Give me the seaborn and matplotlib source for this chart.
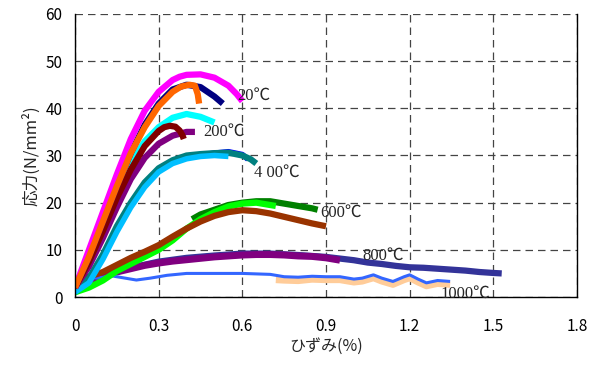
import numpy as np
import pandas as pd
import matplotlib
matplotlib.use("Agg")
import matplotlib.pyplot as plt
import seaborn as sns

# ---- data (strain %, stress N/mm2) ----
# 20 C
x20_mag = [0, 0.025, 0.05, 0.1, 0.15, 0.2, 0.25, 0.3, 0.35, 0.375, 0.4, 0.45, 0.5, 0.55, 0.58, 0.6]
y20_mag = [2, 6, 10, 18, 26, 33.5, 39.5, 43.5, 46, 46.7, 47.1, 47.2, 46.5, 44.8, 43, 41.5]
x20_navy = [0, 0.05, 0.1, 0.15, 0.2, 0.25, 0.3, 0.35, 0.4, 0.45, 0.5, 0.53]
y20_navy = [2, 8.5, 16, 23.5, 30.5, 36.5, 41, 44, 45, 44.5, 42.5, 41]
x20_org = [0, 0.05, 0.1, 0.15, 0.2, 0.25, 0.3, 0.35, 0.38, 0.41, 0.43, 0.44, 0.445]
y20_org = [2, 8.5, 16, 23.5, 30.5, 36, 40.5, 43.5, 44.6, 45, 44.8, 43, 41]
# 200 C
x200_cyan = [0, 0.05, 0.1, 0.15, 0.2, 0.25, 0.3, 0.35, 0.4, 0.45, 0.5]
y200_cyan = [2, 8, 15, 22, 28.5, 33, 36, 38, 38.8, 38.2, 37]
x200_pur = [0, 0.05, 0.1, 0.15, 0.2, 0.25, 0.3, 0.35, 0.4, 0.43]
y200_pur = [2, 6.5, 12.5, 19, 25, 29.5, 32.5, 34.2, 35, 35]
x200_mar = [0, 0.05, 0.1, 0.15, 0.2, 0.25, 0.3, 0.32, 0.34, 0.36, 0.375, 0.385, 0.39]
y200_mar = [2, 7.5, 14, 21, 27, 32, 35.2, 36, 36.3, 36.1, 35.3, 34.3, 33.5]
# 400 C
x400_blue = [0, 0.05, 0.1, 0.15, 0.2, 0.25, 0.3, 0.35, 0.4, 0.45, 0.5, 0.55, 0.6, 0.62]
y400_blue = [1, 3.5, 8.5, 14.3, 19.5, 23.8, 26.8, 28.6, 29.6, 30.1, 30.5, 30.8, 30.2, 29.2]
x400_teal = [0, 0.05, 0.1, 0.15, 0.2, 0.25, 0.3, 0.35, 0.4, 0.45, 0.5, 0.55, 0.6, 0.63, 0.65]
y400_teal = [1.5, 4, 9, 15, 20, 24.3, 27.3, 29, 30, 30.3, 30.5, 30.6, 30, 29.2, 28.3]
x400_sky = [0, 0.05, 0.1, 0.15, 0.2, 0.25, 0.3, 0.35, 0.4, 0.45, 0.5, 0.55]
y400_sky = [1, 3, 8, 13.8, 19, 23.3, 26.5, 28.3, 29.3, 29.8, 30, 29.8]
# 600 C
x600_dgrn = [0.42, 0.45, 0.5, 0.55, 0.6, 0.65, 0.7, 0.75, 0.8, 0.85, 0.87]
y600_dgrn = [16.5, 17.5, 18.5, 19.5, 20, 20.3, 20.3, 19.8, 19.3, 18.8, 18.5]
x600_lime = [0, 0.05, 0.1, 0.15, 0.2, 0.25, 0.3, 0.35, 0.4, 0.45, 0.5, 0.55, 0.6, 0.65, 0.7, 0.72]
y600_lime = [1, 2, 3.5, 5.5, 7, 8.5, 10, 12, 14.5, 16.5, 18, 19.2, 19.8, 20, 19.5, 19.3]
x600_brn = [0, 0.05, 0.1, 0.15, 0.2, 0.25, 0.3, 0.35, 0.4, 0.45, 0.5, 0.55, 0.6, 0.65, 0.7, 0.75, 0.8, 0.85, 0.9]
y600_brn = [3, 4.3, 5.3, 6.8, 8.3, 9.6, 11, 12.8, 14.5, 16, 17.2, 18, 18.4, 18.2, 17.7, 17, 16.3, 15.6, 15]
# 800 C
x800_navy = [0, 0.1, 0.2, 0.3, 0.4, 0.5, 0.6, 0.7, 0.8, 0.9, 1.0, 1.05, 1.1, 1.15, 1.2, 1.25, 1.3, 1.35, 1.4, 1.45, 1.5, 1.53]
y800_navy = [3, 4.6, 6.2, 7.5, 8.3, 8.8, 9.2, 9.2, 8.9, 8.5, 7.8, 7.3, 7, 6.6, 6.3, 6.2, 6, 5.8, 5.6, 5.3, 5.1, 5]
x800_pur = [0, 0.05, 0.1, 0.15, 0.2, 0.25, 0.3, 0.35, 0.4, 0.45, 0.5, 0.55, 0.6, 0.65, 0.7, 0.75, 0.8, 0.85, 0.9, 0.95]
y800_pur = [2, 3.5, 4.5, 5.3, 6, 6.7, 7.2, 7.6, 7.9, 8.2, 8.5, 8.7, 8.9, 9, 9, 8.9, 8.7, 8.6, 8.3, 7.8]
# 1000 C
x1000_peach = [0.72, 0.75, 0.8, 0.85, 0.9, 0.95, 1.0, 1.03, 1.07, 1.1, 1.14, 1.18, 1.2, 1.23, 1.26, 1.3, 1.345]
y1000_peach = [3.6, 3.5, 3.4, 3.7, 3.6, 3.6, 3.1, 3.3, 4.0, 3.3, 2.6, 3.6, 4.0, 3.1, 2.3, 2.8, 2.6]
x1000_blue = [0, 0.03, 0.08, 0.13, 0.18, 0.22, 0.27, 0.33, 0.4, 0.5, 0.6, 0.7, 0.75, 0.8, 0.85, 0.9, 0.95,
              1.0, 1.03, 1.07, 1.1, 1.14, 1.18, 1.2, 1.23, 1.26, 1.3, 1.345]
y1000_blue = [3.5, 4.3, 4.0, 4.5, 4.0, 3.6, 4.0, 4.6, 5.0, 5.0, 5.0, 4.8, 4.3, 4.2, 4.4, 4.3, 4.3,
              3.8, 4.0, 4.7, 4.0, 3.3, 4.3, 4.7, 3.8, 3.0, 3.5, 3.3]

labels = ["20℃", "200℃", "4 00℃", "600℃", "800℃", "1000℃"]
label_x = [0.58, 0.46, 0.64, 0.88, 1.03, 1.31]
label_y = [42.6, 35.0, 26.3, 17.8, 8.7, 0.6]

xticks = [0, 0.3, 0.6, 0.9, 1.2, 1.5, 1.8]
xticklabels = ["0", "0.3", "0.6", "0.9", "1.2", "1.5", "1.8"]
yticks = [0, 10, 20, 30, 40, 50, 60]

sns.set_style("white")
plt.rcParams['font.family'] = ['Noto Sans CJK JP', 'DejaVu Sans']

fig = plt.figure(figsize=(5.92, 3.67), dpi=100)
ax = fig.add_axes([0.1267, 0.1907, 0.848, 0.7712])

series = [
    (x800_navy, y800_navy, "#333399", 4.5),
    (x800_pur, y800_pur, "#800080", 5),
    (x1000_peach, y1000_peach, "#FFCC99", 4.5),
    (x1000_blue, y1000_blue, "#3366FF", 2.2),
    (x600_dgrn, y600_dgrn, "#008000", 4.5),
    (x600_lime, y600_lime, "#00FF00", 4.5),
    (x600_brn, y600_brn, "#993300", 4.5),
    (x400_blue, y400_blue, "#0000FF", 4),
    (x400_teal, y400_teal, "#008080", 4.5),
    (x400_sky, y400_sky, "#00BFFF", 4),
    (x200_cyan, y200_cyan, "#00FFFF", 4.5),
    (x200_pur, y200_pur, "#800080", 4.5),
    (x200_mar, y200_mar, "#800000", 4.5),
    (x20_navy, y20_navy, "#000080", 4.5),
    (x20_mag, y20_mag, "#FF00FF", 4.5),
    (x20_org, y20_org, "#FF6600", 4.5),
]
for xs, ys, c, lw in series:
    df = pd.DataFrame({"x": xs, "y": ys})
    sns.lineplot(data=df, x="x", y="y", ax=ax, color=c, lw=lw, sort=False,
                 estimator=None, solid_capstyle="butt", solid_joinstyle="round")

for t, tx, ty in zip(labels, label_x, label_y):
    ax.text(tx, ty, t, fontsize=12, va="center", ha="left",
            family=['Liberation Serif', 'Noto Sans CJK JP'])

ax.set_xlim(0, 1.8)
ax.set_ylim(0, 60)
ax.set_xticks(xticks)
ax.set_xticklabels(xticklabels)
ax.set_yticks(yticks)
ax.grid(True, ls=(0, (6, 4)), color="#444444", lw=0.9)
ax.tick_params(direction="in", length=4, width=0.8, labelsize=11, colors="black")
ax.tick_params(axis="x", pad=15)
ax.tick_params(axis="y", pad=9)
for s in ["left", "bottom", "right"]:
    ax.spines[s].set_color("black")
    ax.spines[s].set_linewidth(1.0)
ax.spines["top"].set_visible(False)

ax.set_xlabel("ひずみ(%)", fontsize=11.5, labelpad=2)
ax.set_ylabel("応力(N/mm²)", fontsize=12, labelpad=4)

fig.savefig("out.png", dpi=100)
